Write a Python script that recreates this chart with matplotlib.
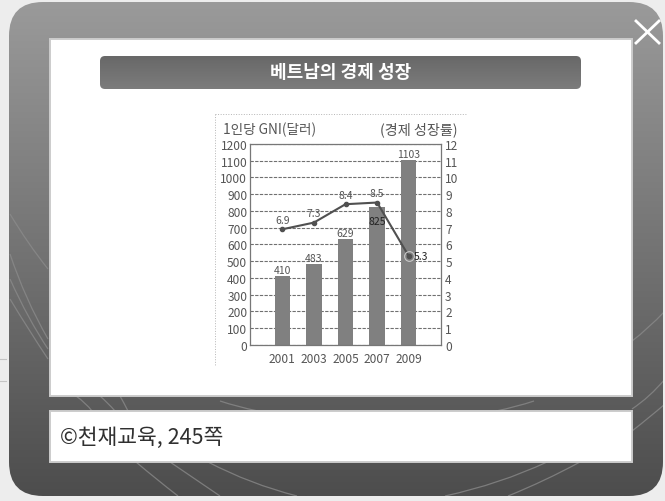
import matplotlib
matplotlib.use('Agg')
import matplotlib.pyplot as plt
import matplotlib.patches as patches
from matplotlib.colors import LinearSegmentedColormap
from matplotlib.path import Path
import numpy as np

plt.rcParams['font.family'] = ['Noto Sans CJK KR', 'DejaVu Sans']

years = ['2001', '2003', '2005', '2007', '2009']
gni = [410, 483, 629, 825, 1103]
growth = [6.9, 7.3, 8.4, 8.5, 5.3]
left_ticks = list(range(0, 1300, 100))
right_ticks = list(range(0, 13))

W, H = 665, 502
fig = plt.figure(figsize=(W / 100, H / 100), dpi=100, facecolor='#ededed')

# page frame, drawn in pixel coordinates
bg = fig.add_axes([0, 0, 1, 1])
bg.set_xlim(0, W)
bg.set_ylim(H, 0)
bg.axis('off')


def gradient(ax, box, top, bottom, radius, zorder):
    x0, y0, x1, y1 = box
    shape = patches.FancyBboxPatch((x0 + radius, y0 + radius), x1 - x0 - 2 * radius, y1 - y0 - 2 * radius,
                                   boxstyle='round,pad=%d,rounding_size=%d' % (radius, radius),
                                   fc='none', ec='none', zorder=zorder)
    ax.add_patch(shape)
    g = np.linspace(0, 1, 256).reshape(-1, 1)
    cmap = LinearSegmentedColormap.from_list('g', [top, bottom])
    im = ax.imshow(g, extent=(x0, x1, y1, y0), aspect='auto', cmap=cmap, zorder=zorder)
    im.set_clip_path(shape)
    return shape


bg.plot([0, 6], [360, 360], color='#c4c4c4', lw=0.8, zorder=0)
bg.plot([0, 6], [382, 382], color='#c4c4c4', lw=0.8, zorder=0)
outer = gradient(bg, (9, 3, 663, 497), '#9a9a9a', '#4d4d4d', 34, 1)

# thin curved lines on the frame: start, bend, end
curves = [((10, 215), (28, 245), (48, 270)), ((10, 255), (25, 300), (48, 340)),
          ((10, 280), (28, 320), (48, 350)), ((10, 300), (28, 330), (48, 360)),
          ((632, 342), (648, 330), (665, 312)), ((632, 410), (650, 398), (665, 380)),
          ((632, 432), (650, 418), (665, 405)),
          ((76, 397), (86, 404), (92, 412)), ((100, 397), (108, 404), (115, 412)),
          ((120, 397), (124, 404), (128, 412)), ((220, 402), (238, 408), (258, 412)),
          ((496, 412), (516, 408), (534, 402)),
          ((136, 463), (156, 480), (178, 497)), ((170, 463), (195, 480), (220, 497)),
          ((208, 463), (250, 485), (297, 497)), ((547, 463), (500, 485), (445, 497)),
          ((580, 463), (545, 482), (508, 497))]
for a, b, c in curves:
    p = Path([a, b, c], [Path.MOVETO, Path.CURVE3, Path.CURVE3])
    curve = patches.PathPatch(p, fc='none', ec='#8c8c8c', lw=0.9, alpha=0.75, zorder=2)
    bg.add_patch(curve)
    curve.set_clip_path(outer)

bg.add_patch(patches.Rectangle((50, 40), 582, 357, fc='white', ec='#cccccc', lw=1.4, zorder=3))
bg.add_patch(patches.Rectangle((50, 412), 582, 51, fc='white', ec='#cccccc', lw=1.4, zorder=3))

gradient(bg, (100, 57, 581, 90), '#686868', '#7c7c7c', 5, 4)
bg.set_xlim(0, W)
bg.set_ylim(H, 0)
bg.text(341, 72, '베트남의 경제 성장', color='white', fontsize=13, fontweight='bold',
        ha='center', va='center', zorder=5)
bg.text(60, 438, '©천재교육, 245쪽', color='#303030', fontsize=15.5, fontweight='light',
        ha='left', va='center', zorder=5)

# close button
bg.plot([636, 659], [22, 44], color='white', lw=2, zorder=6, clip_on=False)
bg.plot([659, 636], [22, 44], color='white', lw=2, zorder=6, clip_on=False)

# dotted edge of the scanned chart
bg.plot([215, 467], [115, 115], color='#b5b5b5', lw=0.7, ls=':', zorder=4)
bg.plot([215, 215], [115, 367], color='#b5b5b5', lw=0.7, ls=':', zorder=4)

# the chart itself
ax = fig.add_axes([250 / W, 1 - 345.7 / H, 191 / W, 200.7 / H])
ax.set_zorder(5)
ax.patch.set_alpha(0)
x = np.arange(len(years))
ax.set_xlim(-1.02, 5.02)
ax.set_ylim(0, 1200)
ax.yaxis.grid(True, color='#707070', lw=0.8, ls=(0, (3, 1.2)))
ax.set_axisbelow(True)
ax.bar(x, gni, width=0.49, color='#808080', zorder=2)
ax.set_xticks(x, years)
ax.set_yticks(left_ticks)
ax.tick_params(axis='x', length=0, labelsize=8.6, labelcolor='#555555', pad=5)
ax.tick_params(axis='y', length=0, labelsize=8.6, labelcolor='#555555', pad=2)
for s in ax.spines.values():
    s.set_color('#777777')
    s.set_linewidth(0.9)

ax2 = ax.twinx()
ax2.set_zorder(6)
ax2.set_ylim(0, 12)
ax2.set_yticks(right_ticks)
ax2.tick_params(axis='y', length=0, labelsize=8.6, labelcolor='#555555', pad=3)
for s in ax2.spines.values():
    s.set_visible(False)
ax2.plot(x, growth, color='#505050', lw=1.5, marker='o', ms=3, zorder=3)
ax2.plot(x[-1], growth[-1], marker='o', ms=7, mfc='none', mec='#c8c8c8', mew=0.8, zorder=3)

# bar and line labels
for i, v in enumerate(gni):
    if i == 3:
        ax.text(i, v - 85, str(v), ha='center', va='center', fontsize=7.5, color='#222222', zorder=5)
    else:
        ax.text(i, v + 6, str(v), ha='center', va='bottom', fontsize=7.5, color='#555555', zorder=5)
for i, v in enumerate(growth):
    if i == 4:
        ax2.text(i + 0.15, v, str(v), ha='left', va='center', fontsize=7.5, color='#222222', zorder=7)
    else:
        ax2.text(i, v + 0.25, str(v), ha='center', va='bottom', fontsize=7.5, color='#555555', zorder=5)

bg.text(223, 130, '1인당 GNI(달러)', fontsize=9.8, color='#555555', ha='left', va='center', zorder=5)
bg.text(458, 130, '(경제 성장률)', fontsize=10.2, color='#555555', ha='right', va='center', zorder=5)

plt.savefig('out.png', dpi=100)
